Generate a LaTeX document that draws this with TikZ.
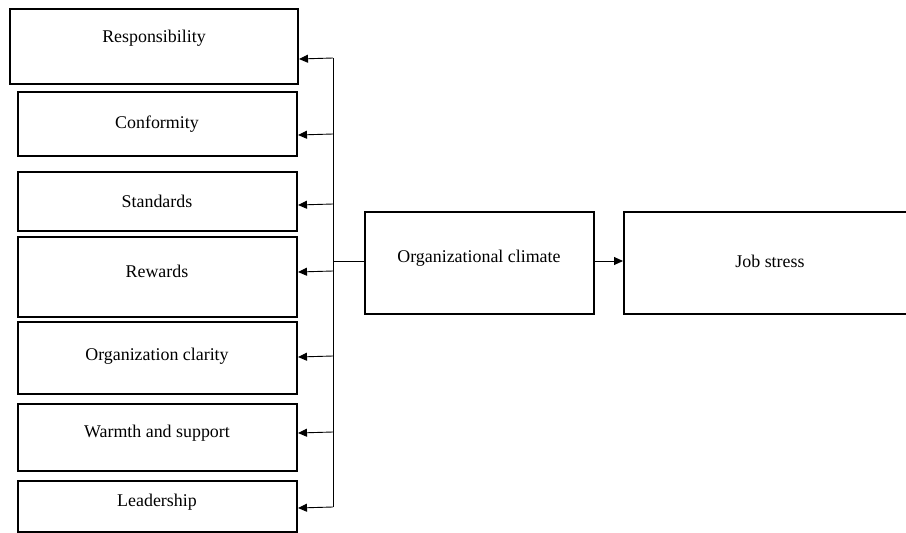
\documentclass[tikz,border=0pt]{standalone}
\usepackage{fontspec}
\setmainfont{Liberation Serif}
\usetikzlibrary{arrows.meta}
\begin{document}
\begin{tikzpicture}[x=1pt,y=-1pt,
  box/.style={draw=black,line width=2pt,rectangle,inner sep=0pt,fill=none},
  lbl/.style={inner sep=0pt,font=\fontsize{17.9}{20}\selectfont},
  conn/.style={draw=black,line width=0.9pt},
  arr/.style={conn,-{Triangle[length=9pt,width=8pt]}}]
\useasboundingbox (0,0) rectangle (906,533);
% boxes
\node[box,minimum width=288pt,minimum height=75pt] (resp) at (154,46.5) {};
\node[box,minimum width=279pt,minimum height=64pt] (conf) at (157.5,124) {};
\node[box,minimum width=279pt,minimum height=59pt] (stand) at (157.5,201.5) {};
\node[box,minimum width=279pt,minimum height=80pt] (rew) at (157.5,277) {};
\node[box,minimum width=279pt,minimum height=72pt] (clar) at (157.5,358) {};
\node[box,minimum width=279pt,minimum height=67pt] (warm) at (157.5,437.5) {};
\node[box,minimum width=279pt,minimum height=51pt] (lead) at (157.5,506.5) {};
\node[box,minimum width=229pt,minimum height=102pt] (clim) at (479.5,263) {};
\node[box,minimum width=292pt,minimum height=102pt] (job) at (770,263) {};
% texts
\node[lbl] (respt) at (154,38) {Responsibility};
\node[lbl] (conft) at (157,124) {Conformity};
\node[lbl] (standt) at (157,201) {Standards};
\node[lbl] (rewt) at (157,271) {Rewards};
\node[lbl] (clart) at (157,356) {Organization clarity};
\node[lbl] (warmt) at (157,433) {Warmth and support};
\node[lbl] (leadt) at (157,502) {Leadership};
\node[lbl] (climt) at (479,258) {Organizational climate};
\node[lbl] (jobt) at (770,261) {Job stress};
% spine junctions
\coordinate (s1) at (333,58);
\coordinate (s2) at (333,134);
\coordinate (s3) at (333,204);
\coordinate (s4) at (333,271);
\coordinate (s5) at (333,356);
\coordinate (s6) at (333,432);
\coordinate (s7) at (333,507);
\coordinate (sm) at (333,261);
\draw[conn] (s1) -- (s7);
\draw[conn] (sm) -- (clim.west |- sm);
\draw[arr] (s1) -- ([yshift=-1pt]resp.east |- s1);
\draw[arr] (s2) -- ([yshift=-1pt]conf.east |- s2);
\draw[arr] (s3) -- ([yshift=-1pt]stand.east |- s3);
\draw[arr] (s4) -- ([yshift=-1pt]rew.east |- s4);
\draw[arr] (s5) -- ([yshift=-1pt]clar.east |- s5);
\draw[arr] (s6) -- ([yshift=-1pt]warm.east |- s6);
\draw[arr] (s7) -- ([yshift=-1pt]lead.east |- s7);
\draw[arr] (clim.east |- sm) -- (job.west |- sm);
\end{tikzpicture}
\end{document}
